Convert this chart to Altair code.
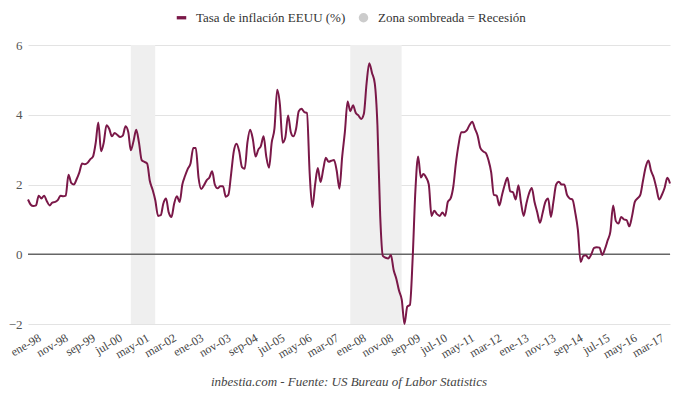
import altair as alt
import pandas as pd

# Inflación interanual EEUU (%), mensual, ene-1998 .. oct-2017
infl_1998 = [1.57, 1.42, 1.38, 1.40, 1.68, 1.60, 1.68, 1.52, 1.40, 1.48, 1.50, 1.55]
infl_1999 = [1.68, 1.66, 1.68, 2.28, 2.05, 2.00, 2.15, 2.35, 2.60, 2.58, 2.62, 2.72]
infl_2000 = [2.80, 3.20, 3.78, 2.95, 3.20, 3.70, 3.60, 3.38, 3.48, 3.42, 3.36, 3.40]
infl_2001 = [3.67, 3.50, 2.98, 3.25, 3.57, 3.20, 2.70, 2.65, 2.60, 2.10, 1.85, 1.55]
infl_2002 = [1.10, 1.12, 1.45, 1.60, 1.20, 1.07, 1.45, 1.66, 1.50, 2.00, 2.25, 2.45]
infl_2003 = [2.60, 3.05, 3.05, 2.20, 1.87, 1.98, 2.12, 2.20, 2.38, 2.00, 1.89, 1.95]
infl_2004 = [1.95, 1.65, 1.70, 2.30, 2.95, 3.17, 2.95, 2.50, 2.45, 3.20, 3.57, 3.30]
infl_2005 = [2.80, 3.00, 3.10, 3.38, 2.80, 2.48, 3.20, 3.60, 4.72, 4.30, 3.20, 3.35]
infl_2006 = [3.98, 3.50, 3.38, 3.60, 4.10, 4.17, 4.08, 4.05, 2.30, 1.35, 2.00, 2.47]
infl_2007 = [2.07, 2.45, 2.77, 2.65, 2.68, 2.70, 2.40, 1.88, 2.80, 3.50, 4.38, 4.10]
infl_2008 = [4.27, 4.05, 3.98, 3.88, 4.02, 4.90, 5.48, 5.20, 4.90, 3.70, 1.10, -0.05]
infl_2009 = [-0.10, -0.12, -0.02, -0.45, -0.70, -1.05, -1.30, -2.00, -1.50, -1.45, -0.10, 1.80]
infl_2010 = [2.80, 2.20, 2.30, 2.20, 2.00, 1.10, 1.25, 1.15, 1.10, 1.20, 1.10, 1.50]
infl_2011 = [1.60, 1.95, 2.60, 3.15, 3.50, 3.50, 3.55, 3.70, 3.80, 3.60, 3.40, 3.05]
infl_2012 = [2.95, 2.90, 2.70, 2.35, 1.70, 1.68, 1.40, 1.70, 2.00, 2.19, 1.80, 1.78]
infl_2013 = [1.57, 1.98, 1.50, 1.10, 1.45, 1.75, 1.90, 1.50, 1.20, 0.90, 1.20, 1.50]
infl_2014 = [1.60, 1.07, 1.50, 2.00, 2.08, 2.00, 2.00, 1.70, 1.60, 1.57, 1.20, 0.70]
infl_2015 = [-0.22, -0.05, -0.03, -0.12, 0.00, 0.18, 0.20, 0.19, -0.02, 0.15, 0.40, 0.65]
infl_2016 = [1.40, 0.95, 0.88, 1.07, 1.00, 0.98, 0.80, 1.10, 1.50, 1.60, 1.70, 2.10]
infl_2017 = [2.50, 2.69, 2.40, 2.20, 1.90, 1.57, 1.70, 1.90, 2.19, 2.03]

rec_inicio = ["2001-03-01", "2007-12-01"]
rec_fin = ["2001-11-30", "2009-06-30"]

tick_fechas = ["1998-01-01", "1998-11-01", "1999-09-01", "2000-07-01", "2001-05-01",
               "2002-03-01", "2003-01-01", "2003-11-01", "2004-09-01", "2005-07-01",
               "2006-05-01", "2007-03-01", "2008-01-01", "2008-11-01", "2009-09-01",
               "2010-07-01", "2011-05-01", "2012-03-01", "2013-01-01", "2013-11-01",
               "2014-09-01", "2015-07-01", "2016-05-01", "2017-03-01"]
y_ticks = [-2, 0, 2, 4, 6]
linea_cero = [0]

serie_linea = "Tasa de inflación EEUU (%)"
serie_rec = "Zona sombreada = Recesión"
color_linea = "#7a1848"
color_rec = "#cccccc"

valores = (infl_1998 + infl_1999 + infl_2000 + infl_2001 + infl_2002 + infl_2003 +
           infl_2004 + infl_2005 + infl_2006 + infl_2007 + infl_2008 + infl_2009 +
           infl_2010 + infl_2011 + infl_2012 + infl_2013 + infl_2014 + infl_2015 +
           infl_2016 + infl_2017)
fechas = pd.date_range("1998-01-01", periods=len(valores), freq="MS").strftime("%Y-%m-%d")
df = pd.DataFrame({"fecha": fechas, "valor": valores})
df_rec = pd.DataFrame({"inicio": rec_inicio, "fin": rec_fin})
df_cero = pd.DataFrame({"y": linea_cero})
df_leg = pd.DataFrame({"serie": [serie_linea, serie_rec]})

def ms(s):
    return int(pd.Timestamp(s, tz="UTC").value // 10**6)

FONT = "Liberation Serif"
x_scale = alt.Scale(type="utc", domain=[ms(fechas[0]), ms(fechas[-1])], nice=False)
y_scale = alt.Scale(domain=[-2, 6], nice=False)

meses = "['ene','feb','mar','abr','may','jun','jul','ago','sep','oct','nov','dic']"
x_axis = alt.Axis(
    values=[ms(t) for t in tick_fechas],
    labelExpr=meses + "[utcmonth(datum.value)] + '-' + utcFormat(datum.value, '%y')",
    labelAngle=-30, grid=False, domain=False, ticks=False, labelFont=FONT,
    labelFontSize=12, labelColor="#444", labelPadding=8, labelOffset=9, title=None,
    labelOverlap=False,
)
y_axis = alt.Axis(
    values=y_ticks, grid=True, gridColor="#e3e3e3", gridWidth=1.2, domain=False,
    ticks=False, labelFont=FONT, labelFontSize=13, labelColor="#555",
    labelPadding=6, title=None,
)

rec = alt.Chart(df_rec).mark_rect(color="#efefef").encode(
    x=alt.X("inicio:T", scale=x_scale, axis=x_axis),
    x2="fin:T",
)

zero = alt.Chart(df_cero).mark_rule(color="#666", strokeWidth=1.5).encode(
    y=alt.Y("y:Q", scale=y_scale, axis=y_axis),
)

line = alt.Chart(df).mark_line(color=color_linea, strokeWidth=2, interpolate="monotone").encode(
    x=alt.X("fecha:T", scale=x_scale, axis=x_axis),
    y=alt.Y("valor:Q", scale=y_scale, axis=y_axis),
)

leg = alt.Chart(df_leg).mark_point(filled=True, opacity=0).encode(
    color=alt.Color("serie:N",
                    scale=alt.Scale(domain=[serie_linea, serie_rec], range=[color_linea, color_rec]),
                    legend=alt.Legend(orient="none", legendX=147, legendY=-34, direction="horizontal",
                                      title=None, labelFont=FONT, labelFontSize=13,
                                      labelColor="#333", symbolSize=90, labelOffset=8,
                                      columnPadding=11, padding=0, symbolOpacity=1,
                                      labelLimit=400)),
    shape=alt.Shape("serie:N",
                    scale=alt.Scale(domain=[serie_linea, serie_rec],
                                    range=["M-1,-0.35H1V0.35H-1Z", "circle"]),
                    legend=None),
)

chart = alt.layer(rec, zero, line, leg).properties(
    width=642, height=279,
    autosize=alt.AutoSizeParams(type="none"),
    padding={"left": 20, "top": 37, "right": 2, "bottom": 70},
    title=alt.TitleParams(
        text="inbestia.com - Fuente: US Bureau of Labor Statistics",
        orient="bottom", anchor="middle", font=FONT, fontStyle="italic",
        fontWeight="normal", fontSize=13, color="#444", offset=16,
    ),
).configure_view(stroke=None)

chart.save("out.html", embed_options={"renderer": "svg", "actions": False})
